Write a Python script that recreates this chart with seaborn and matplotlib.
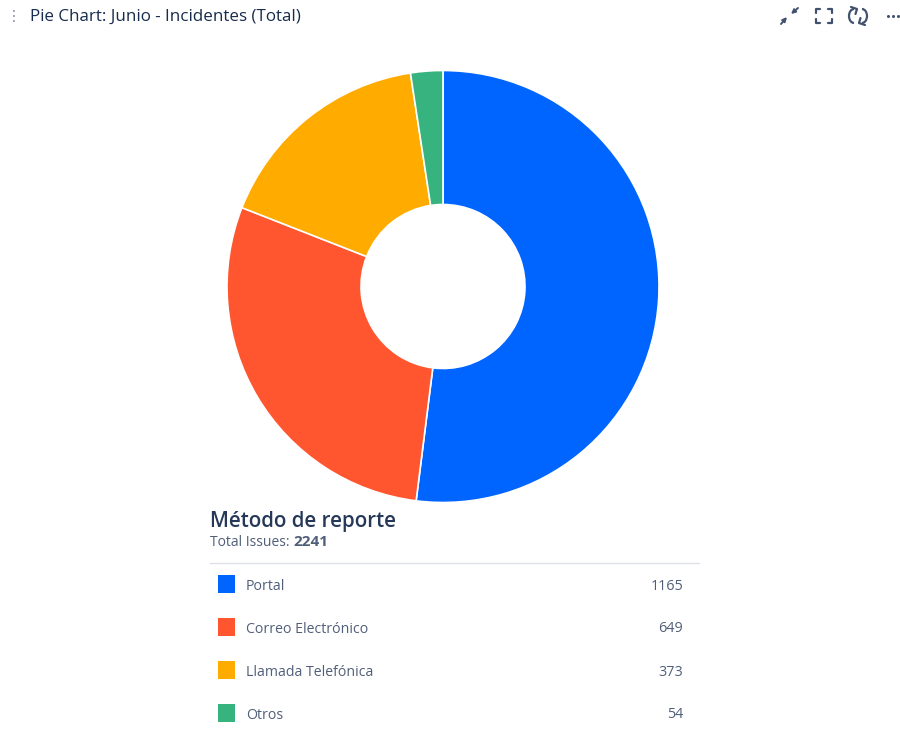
import matplotlib
matplotlib.use("Agg")
import matplotlib.pyplot as plt
from matplotlib.patches import Rectangle, Arc
import seaborn as sns

sns.set_theme(style="white")
plt.rcParams["font.family"] = ["Open Sans", "DejaVu Sans"]

# Issues per reporting method
categories = ["Portal", "Correo Electrónico", "Llamada Telefónica", "Otros"]
issues = [1165, 649, 373, 54]
colors = ["#0065FF", "#FF5630", "#FFAB00", "#36B37E"]
total_issues = 2241
panel_title = "Pie Chart: Junio - Incidentes (Total)"
legend_title = "Método de reporte"

TEXT_DARK = "#253858"
TEXT_MID = "#505F79"
ICON = "#42526E"

W, H = 900, 732
fig = plt.figure(figsize=(W / 100, H / 100), dpi=100, facecolor="white")

# Overlay in pixel coordinates for the panel header and legend table
ui = fig.add_axes([0, 0, 1, 1])
ui.set_xlim(0, W)
ui.set_ylim(H, 0)
ui.axis("off")

# Donut
cx, cy, r = 443, 286.5, 216
pie_ax = fig.add_axes([(cx - r) / W, 1 - (cy + r) / H, 2 * r / W, 2 * r / H])
pie_ax.pie(
    issues,
    colors=sns.color_palette(colors),
    startangle=90,
    counterclock=False,
    radius=1.0,
    wedgeprops=dict(width=1 - 82 / r, edgecolor="white", linewidth=1.2),
)
pie_ax.set_xlim(-1, 1)
pie_ax.set_ylim(-1, 1)
pie_ax.set_aspect("equal")
for w in pie_ax.patches:
    w.set_clip_on(False)

# Panel header
for y in (11, 16, 21):
    ui.add_patch(Rectangle((13, y - 1), 2, 2, color="#A5ADBA", lw=0))
ui.text(30, 17, panel_title, fontsize=12.25, color="#172B4D", va="center", ha="left")

# Collapse icon
arrow = dict(arrowstyle="-|>", color=ICON, lw=1.4, mutation_scale=6, shrinkA=0, shrinkB=0)
ui.annotate("", xy=(787, 17), xytext=(781, 24), arrowprops=arrow)
ui.annotate("", xy=(791, 14), xytext=(798, 8), arrowprops=arrow)

# Fullscreen icon
for xs, ys in [
    ((816, 816, 820), (13, 9, 9)),
    ((828, 832, 832), (9, 9, 13)),
    ((816, 816, 820), (19, 23, 23)),
    ((828, 832, 832), (23, 23, 19)),
]:
    ui.plot(xs, ys, color=ICON, lw=1.6, solid_capstyle="round")

# Refresh icon: two opposing arcs with arrow heads
ui.add_patch(Arc((854, 16), 10, 14, theta1=90, theta2=270, color=ICON, lw=1.6))
ui.add_patch(Arc((862, 16), 10, 14, theta1=270, theta2=450, color=ICON, lw=1.6))
ui.plot([851, 857, 855.5], [7, 9, 14], color=ICON, lw=1.6, solid_capstyle="round")
ui.plot([865, 859, 860.5], [25, 23, 18], color=ICON, lw=1.6, solid_capstyle="round")

# Overflow menu
for x in (888, 893, 898):
    ui.plot([x], [16], marker="o", ms=2.2, color=ICON, mew=0)

# Legend heading
ui.text(210, 521, legend_title, fontsize=14.8, color=TEXT_DARK, va="center", ha="left", fontweight="semibold")
total = ui.text(210, 542, "Total Issues: ", fontsize=10, color=TEXT_MID, va="center", ha="left")
fig.canvas.draw()
bb = total.get_window_extent()
ui.text(bb.x1, 542, str(total_issues), fontsize=11, color=TEXT_MID, va="center", ha="left", fontweight="bold")
ui.plot([210, 699], [562.5, 562.5], color="#DFE1E6", lw=1)

# Legend rows
row_y = [585, 628, 671, 714]
for name, value, color, y in zip(categories, issues, colors, row_y):
    ui.add_patch(Rectangle((218, y - 10), 17, 18, facecolor=color, edgecolor="none"))
    ui.text(246, y + 1.5, name, fontsize=10.2, color=TEXT_MID, va="center", ha="left")
    ui.text(683, y + 1, str(value), fontsize=10.4, color=TEXT_MID, va="center", ha="right")

fig.savefig("out.png", dpi=100, facecolor="white")
